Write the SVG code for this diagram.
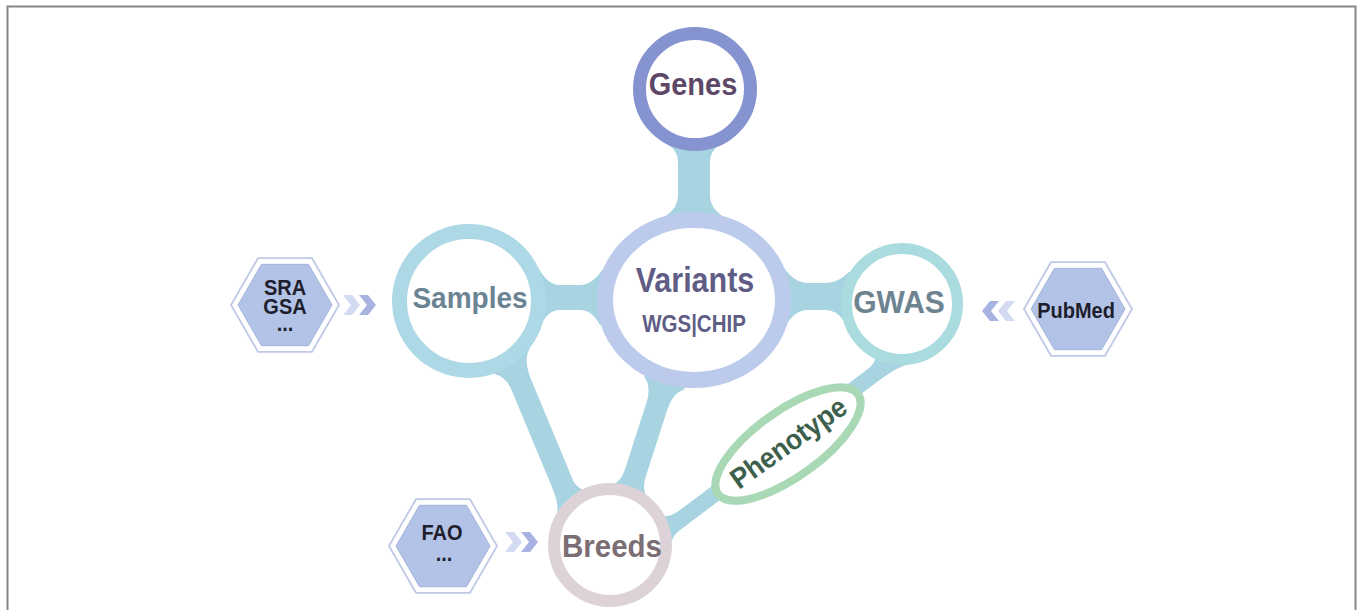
<svg xmlns="http://www.w3.org/2000/svg" width="1360" height="610" viewBox="0 0 1360 610">
  <defs>
    <style>
      .lbl { font-family: "Liberation Sans", Arial, Helvetica, sans-serif; font-weight: bold; text-anchor: middle; }
      .band { fill: #a8d4e2; }
      .ring { fill: #ffffff; }
      .hex-out { fill: #ffffff; stroke: #c0c9e6; stroke-width: 1.8; }
      .hex-in { fill: #b3c3e7; stroke: #a3b3dd; stroke-width: 1; }
      .src { fill: #1e1e2c; font-size: 20px; }
      .chev-light { fill: #d3daf2; }
      .chev-dark { fill: #a9b3e2; }
    </style>
    <!-- chevron pointing right / left, 17 x 20 -->
    <path id="chevR" d="M0,0 L9,0 L17,10 L9,20 L0,20 L8,10 Z"/>
    <path id="chevL" d="M8,0 L17,0 L9,10 L17,20 L8,20 L0,10 Z"/>
  </defs>

  <rect width="1360" height="610" fill="#ffffff"/>
  <!-- frame, open at the bottom -->
  <path d="M7.5,615 V6.5 H1355.5 V615" fill="none" stroke="#868686" stroke-width="2"/>

  <!-- connectors -->
  <g id="connectors">
    <!-- Genes - Variants -->
    <path class="band" d="M668,135 L668,145 Q678,150 678,163 L678,195 Q678,212 656,221 L656,232 L732,232 L732,221 Q710,212 710,195 L710,163 Q710,150 720,145 L720,135 Z"/>
    <!-- Samples - Variants -->
    <path class="band" d="M530,269 L539,269 Q548,285 560,285 L580,285 Q592,285 603,269 L613,269 L613,325 L600,325 Q592,310 580,310 L560,310 Q548,310 541,325 L530,325 Z"/>
    <!-- Variants - GWAS -->
    <path class="band" d="M775,268 L784,268 Q795,283 808,283 L826,283 Q838,283 849,272 L858,272 L858,320 L843,320 Q836,310 826,310 L808,310 Q795,310 787,324 L775,324 Z"/>
    <!-- Samples - Breeds -->
    <path class="band" transform="translate(511,360) rotate(67.4)" d="M-8,21 L6.3,21 Q13,11 28,11 L134,11 Q151,11 158.6,16 L170,16 L170,-16 L147,-16 Q141,-11 134,-11 L28,-11 Q4,-11 -2.6,-21 L-8,-21 Z"/>
    <!-- Variants - Breeds -->
    <path class="band" transform="translate(663,387) rotate(107.8)" d="M-15,21 L-4,21 Q3,11 20,11 L90,11 Q101,11 106.1,16 L118,16 L118,-16 L107.4,-16 Q102,-11 90,-11 L20,-11 Q3,-11 -4.3,-21 L-15,-21 Z"/>
    <!-- Breeds - Phenotype - GWAS -->
    <path class="band" transform="translate(660,535) rotate(-36.9)" d="M0,12 L5.8,12 Q10,8 20,8 L270,8 Q290,8 299.7,12 L305,12 L305,-12 L277.8,-12 Q275,-8 265,-8 L30,-8 Q20,-8 15.2,-12 L0,-12 Z"/>
  </g>

  <g id="genes">
    <circle class="ring" cx="695" cy="89" r="55.5" stroke="#8594d0" stroke-width="13"/>
    <text class="lbl" transform="translate(693,95) scale(1,1.07)" font-size="29" fill="#5d4868">Genes</text>
  </g>

  <g id="variants">
    <ellipse class="ring" cx="694" cy="300" rx="89" ry="80" stroke="#bccbec" stroke-width="16"/>
    <text class="lbl" transform="translate(695,292) scale(1,1.15)" font-size="30.5" fill="#5f5d85">Variants</text>
    <text class="lbl" transform="translate(694,332) scale(1,1.15)" font-size="20.5" fill="#5f5d85">WGS|CHIP</text>
  </g>

  <g id="samples">
    <circle class="ring" cx="469" cy="301" r="69.5" stroke="#acd9e5" stroke-width="15"/>
    <text class="lbl" transform="translate(470,308) scale(1,1.07)" font-size="28" fill="#6a8494">Samples</text>
  </g>

  <g id="gwas">
    <circle class="ring" cx="902" cy="304" r="55.5" stroke="#aadcdf" stroke-width="11"/>
    <text class="lbl" transform="translate(899,313) scale(1,1.05)" font-size="30" fill="#6d8390">GWAS</text>
  </g>

  <g id="breeds">
    <circle class="ring" cx="610" cy="545" r="56" stroke="#dcd2d8" stroke-width="12"/>
    <text class="lbl" transform="translate(612,557) scale(1,1.07)" font-size="29.5" fill="#7b6e74">Breeds</text>
  </g>

  <g id="phenotype" transform="translate(788,444) rotate(-35.5)">
    <ellipse cx="0" cy="0" rx="86" ry="33" fill="#ffffff" stroke="#a8d8b4" stroke-width="8"/>
    <text class="lbl" transform="translate(1,9) scale(1,1.08)" font-size="26.5" fill="#3d5f4c">Phenotype</text>
  </g>

  <!-- data sources -->
  <g id="src-sra">
    <polygon class="hex-out" points="231,305 258,258.2 312,258.2 339,305 312,351.8 258,351.8"/>
    <polygon class="hex-in" points="238,305 261.5,264.3 308.5,264.3 332,305 308.5,345.7 261.5,345.7"/>
    <text class="lbl src" transform="translate(285,295) scale(1,1.12)"><tspan x="0" y="0">SRA</tspan><tspan x="0" dy="17">GSA</tspan><tspan x="0" dy="15">...</tspan></text>
  </g>

  <g id="src-pubmed">
    <polygon class="hex-out" points="1024,309 1051,262.2 1105,262.2 1132,309 1105,355.8 1051,355.8"/>
    <polygon class="hex-in" points="1031,309 1054.5,268.3 1101.5,268.3 1125,309 1101.5,349.7 1054.5,349.7"/>
    <text class="lbl src" transform="translate(1076,318) scale(1,1.12)" font-size="19">PubMed</text>
  </g>

  <g id="src-fao">
    <polygon class="hex-out" points="389,546 416,499.2 470,499.2 497,546 470,592.8 416,592.8"/>
    <polygon class="hex-in" points="396,546 419.5,505.3 466.5,505.3 490,546 466.5,586.7 419.5,586.7"/>
    <text class="lbl src" transform="translate(442,540) scale(1,1.12)"><tspan x="0" y="0">FAO</tspan><tspan x="2" dy="18.5">...</tspan></text>
  </g>

  <!-- flow chevrons -->
  <g id="chevrons">
    <use href="#chevR" class="chev-light" x="343" y="295"/>
    <use href="#chevR" class="chev-dark" x="359" y="295"/>
    <use href="#chevL" class="chev-dark" x="982" y="301"/>
    <use href="#chevL" class="chev-light" x="998" y="301"/>
    <use href="#chevR" class="chev-light" x="505" y="532"/>
    <use href="#chevR" class="chev-dark" x="521" y="532"/>
  </g>
</svg>
